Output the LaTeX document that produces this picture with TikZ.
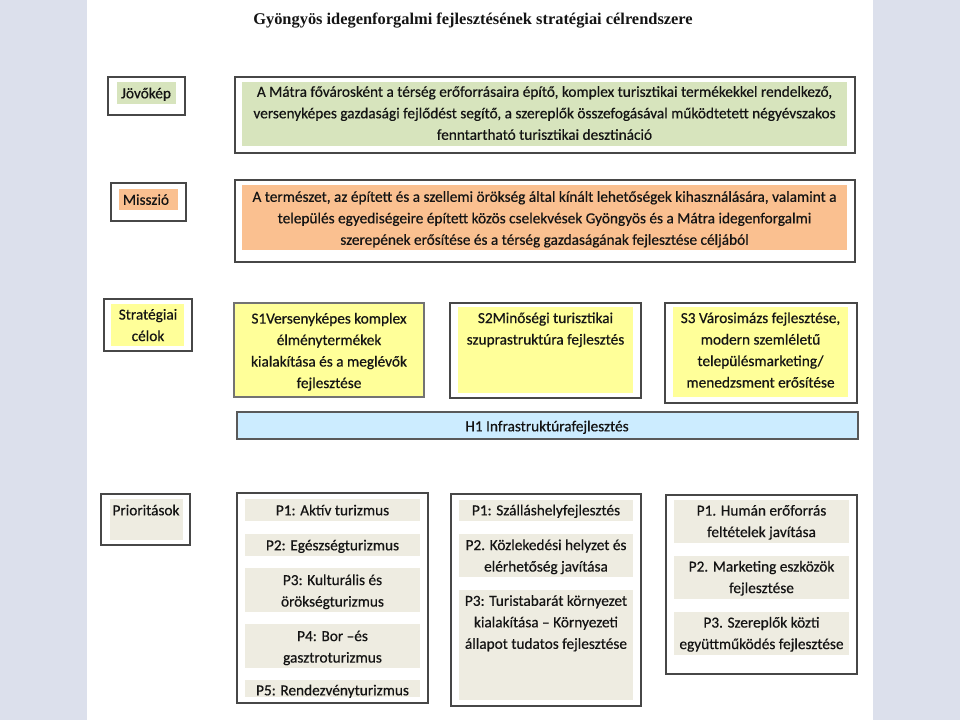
\documentclass[tikz,border=0pt]{standalone}
\usepackage{fontspec}
\setmainfont{Carlito}[FakeBold=0.5]
\newfontfamily\titlefont{Liberation Serif}
\definecolor{sidebg}{RGB}{220,224,236}
\definecolor{vgreen}{RGB}{215,228,189}
\definecolor{morange}{RGB}{250,192,144}
\definecolor{syellow}{RGB}{255,255,153}
\definecolor{hblue}{RGB}{204,236,255}
\definecolor{pbeige}{RGB}{238,236,225}
\definecolor{txtc}{RGB}{20,20,20}
\tikzset{
  outer/.style={draw=black!72, line width=1.4pt},
  txt/.style={font=\fontsize{15.3}{21.5}\selectfont, align=center, text=txtc, inner sep=0pt},
  ttl/.style={font=\titlefont\bfseries\fontsize{16.4}{19}\selectfont, text=txtc, inner sep=0pt}
}
\begin{document}
\begin{tikzpicture}[x=1pt,y=-1pt]
\useasboundingbox (0,0) rectangle (960,720);
% page background
\fill[sidebg] (0,0) rectangle (960,720);
\fill[white] (87,0) rectangle (873,720);

% title
\node[ttl] (title) at (473,20.5) {Gyöngyös idegenforgalmi fejlesztésének stratégiai célrendszere};

% Jövőkép
\draw[outer] (108,77) rectangle (185,115);
\fill[vgreen] (117,82) rectangle (176,104);
\node[txt] (jlab) at (146,94) {\strut Jövőkép\strut};
\draw[outer] (235,77) rectangle (855,153);
\fill[vgreen] (242,82) rectangle (847,146);
\node[txt] (jtxt) at (544.5,114) {\strut A Mátra fővárosként a térség erőforrásaira építő, komplex turisztikai termékekkel rendelkező,\\
versenyképes gazdasági fejlődést segítő, a szereplők összefogásával működtetett négyévszakos\\
fenntartható turisztikai desztináció\strut};

% Misszió
\draw[outer] (111,183) rectangle (186,221);
\fill[morange] (119,189) rectangle (178,210);
\node[txt] (mlab) at (146,200.5) {\strut Misszió\strut};
\draw[outer] (235,180) rectangle (855,262);
\fill[morange] (242,185) rectangle (847,250);
\node[txt] (mtxt) at (544.5,219) {\strut A természet, az épített és a szellemi örökség által kínált lehetőségek kihasználására, valamint a\\
település egyediségeire épített közös cselekvések Gyöngyös és a Mátra idegenforgalmi\\
szerepének erősítése és a térség gazdaságának fejlesztése céljából\strut};

% Stratégiai célok
\draw[outer] (104,299) rectangle (192,351);
\fill[syellow] (111,304) rectangle (184,346);
\node[txt] (slab) at (148,326) {\strut Stratégiai\\ célok\strut};

\draw[outer, draw=black!55, fill=syellow] (234,303) rectangle (424,397);
\node[txt] (s1) at (329,351.5) {\strut S1Versenyképes komplex\\ élménytermékek\\ kialakítása és a meglévők\\ fejlesztése\strut};

\draw[outer] (450,303) rectangle (641,398);
\fill[syellow] (458,307) rectangle (633,393);
\node[txt] (s2) at (545.5,329.5) {\strut S2Minőségi turisztikai\\ szuprastruktúra fejlesztés\strut};

\draw[outer] (665,303) rectangle (857,403);
\fill[syellow] (673,307) rectangle (848,397);
\node[txt] (s3) at (760.5,351) {\strut S3 Városimázs fejlesztése,\\ modern szemléletű\\ településmarketing/\\ menedzsment erősítése\strut};

% H1
\draw[outer, draw=black!65, line width=1.2pt, fill=hblue] (237,412) rectangle (858,439);
\node[txt] (h1) at (547,427) {\strut H1 Infrastruktúrafejlesztés\strut};

% Prioritások
\draw[outer] (101,494) rectangle (190,545);
\fill[pbeige] (110,499) rectangle (183,540);
\node[txt] (plab) at (146,511) {\strut Prioritások\strut};

% column 1
\draw[outer] (237,493) rectangle (428,703);
\fill[pbeige] (245,499) rectangle (420,521);
\node[txt] (c1p1) at (332.5,511) {\strut P1: Aktív turizmus\strut};
\fill[pbeige] (245,534) rectangle (420,556);
\node[txt] (c1p2) at (332.5,546) {\strut P2: Egészségturizmus\strut};
\fill[pbeige] (245,568) rectangle (420,612);
\node[txt] (c1p3) at (332.5,591.5) {\strut P3: Kulturális és\\ örökségturizmus\strut};
\fill[pbeige] (245,624) rectangle (420,668);
\node[txt] (c1p4) at (332.5,647.5) {\strut P4: Bor –és\\ gasztroturizmus\strut};
\fill[pbeige] (245,680) rectangle (420,697);
\node[txt] (c1p5) at (332.5,691) {\strut P5: Rendezvényturizmus\strut};

% column 2
\draw[outer] (451,494) rectangle (641,706);
\fill[pbeige] (459,500) rectangle (633,521);
\node[txt] (c2p1) at (546,511) {\strut P1: Szálláshelyfejlesztés\strut};
\fill[pbeige] (459,534) rectangle (633,577);
\node[txt] (c2p2) at (546,556.5) {\strut P2. Közlekedési helyzet és\\ elérhetőség javítása\strut};
\fill[pbeige] (459,590) rectangle (633,700);
\node[txt] (c2p3) at (546,623) {\strut P3: Turistabarát környezet\\ kialakítása – Környezeti\\ állapot tudatos fejlesztése\strut};

% column 3
\draw[outer] (666,495) rectangle (857,674);
\fill[pbeige] (674,500) rectangle (849,543);
\node[txt] (c3p1) at (761.5,522) {\strut P1. Humán erőforrás\\ feltételek javítása\strut};
\fill[pbeige] (674,556) rectangle (849,599);
\node[txt] (c3p2) at (761.5,578) {\strut P2. Marketing eszközök\\ fejlesztése\strut};
\fill[pbeige] (674,612) rectangle (849,655);
\node[txt] (c3p3) at (761.5,634) {\strut P3. Szereplők közti\\ együttműködés fejlesztése\strut};
\end{tikzpicture}
\end{document}
